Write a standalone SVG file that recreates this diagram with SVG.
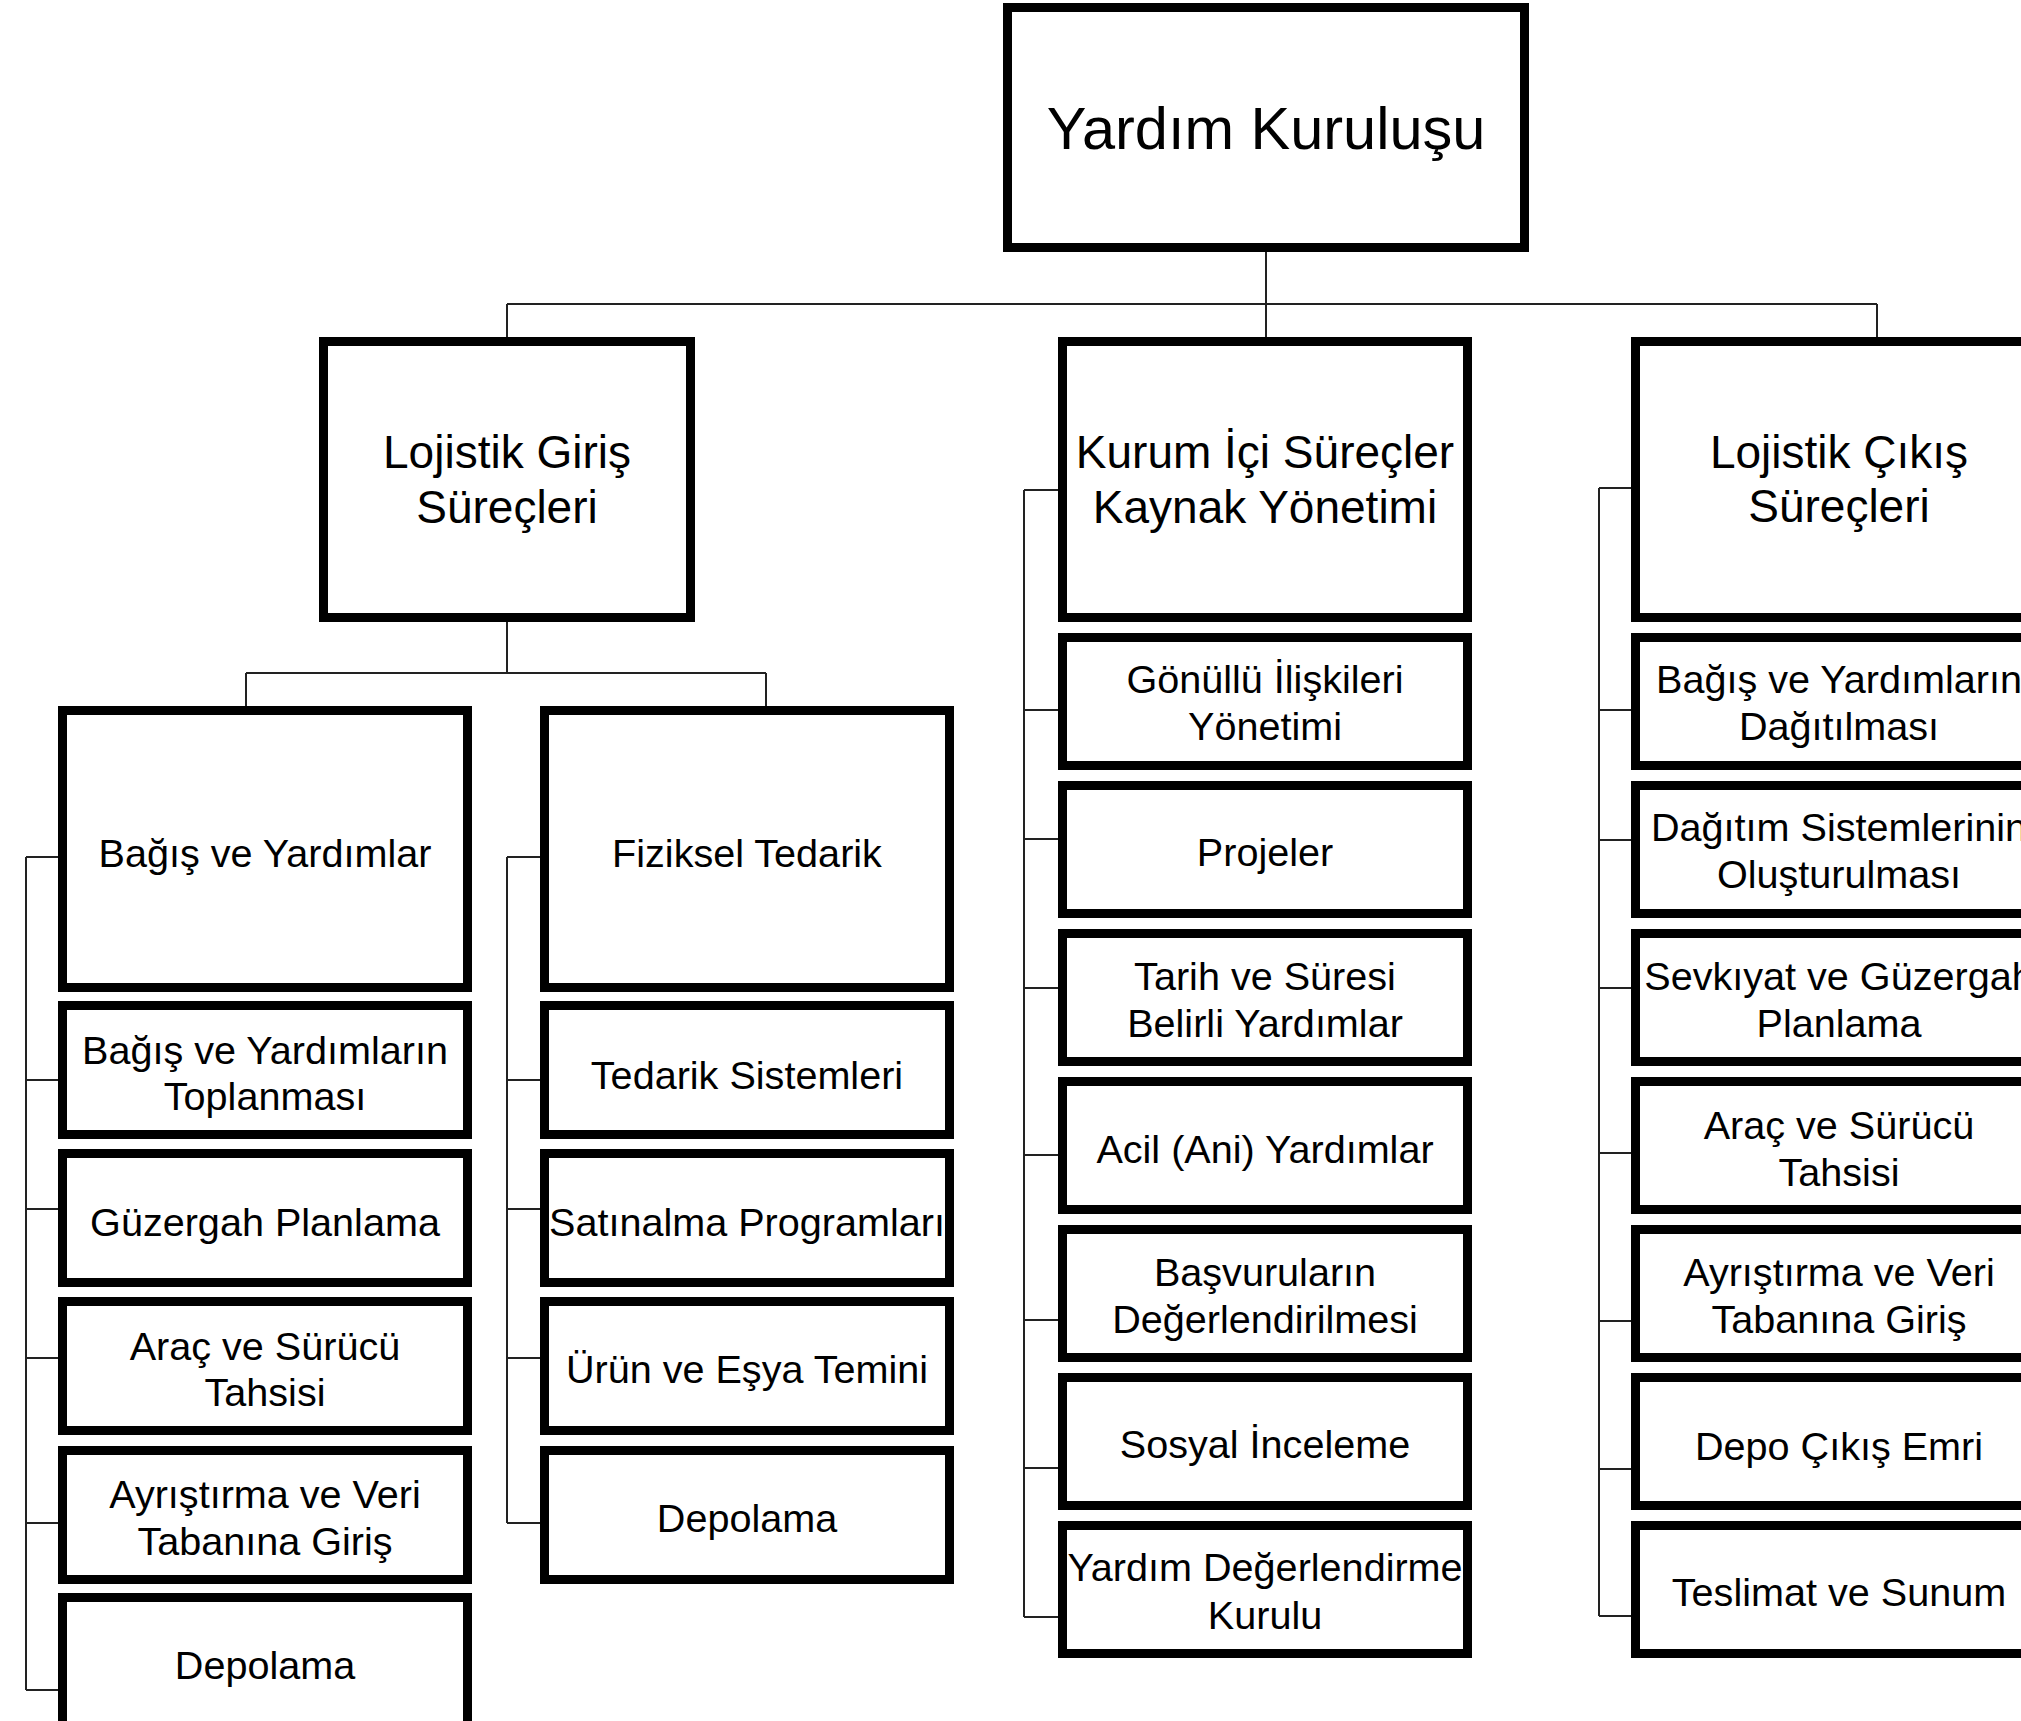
<svg xmlns="http://www.w3.org/2000/svg" width="2021" height="1721" viewBox="0 0 2021 1721">
<style>
.box{fill:#fff;stroke:#000;stroke-width:9}
.ln{fill:none;stroke:#222;stroke-width:2}
text{font-family:"Liberation Sans",Arial,sans-serif;fill:#000;text-anchor:middle}
.t1{font-size:59.5px}
.t2{font-size:46px}
.t3{font-size:39.6px}
</style>
<rect width="2021" height="1721" fill="#fff"/>
<g id="connectors">
<path class="ln" d="M1266,252V337M507,304H1877M507,304V337M1877,304V337"/>
<path class="ln" d="M507,622V673M246,673H766M246,673V706M766,673V706"/>
<path class="ln" d="M26,857V1690M26,857H58M26,1080H58M26,1209H58M26,1358H58M26,1523H58M26,1690H58"/>
<path class="ln" d="M507,857V1523M507,857H540M507,1080H540M507,1209H540M507,1358H540M507,1523H540"/>
<path class="ln" d="M1024,490V1617M1024,490H1058M1024,710H1058M1024,839H1058M1024,988H1058M1024,1155H1058M1024,1320H1058M1024,1468H1058M1024,1617H1058"/>
<path class="ln" d="M1599,488V1616M1599,488H1631M1599,710H1631M1599,840H1631M1599,988H1631M1599,1153H1631M1599,1321H1631M1599,1469H1631M1599,1616H1631"/>
</g>
<g id="root"><rect class="box" x="1007.5" y="7.5" width="517" height="240"/><text class="t1" x="1266" y="149">Yardım Kuruluşu</text></g>
<g id="lojistik-giris"><rect class="box" x="323.5" y="341.5" width="367" height="276"/><text class="t2" x="507" y="468">Lojistik Giriş</text><text class="t2" x="507" y="523">Süreçleri</text></g>
<g id="kurum-ici"><rect class="box" x="1062.5" y="341.5" width="405" height="276"/><text class="t2" x="1265" y="468">Kurum İçi Süreçler</text><text class="t2" x="1265" y="523">Kaynak Yönetimi</text></g>
<g id="lojistik-cikis"><rect class="box" x="1635.5" y="341.5" width="407" height="276"/><text class="t2" x="1839" y="468">Lojistik Çıkış</text><text class="t2" x="1839" y="522">Süreçleri</text></g>

<g id="a1"><rect class="box" x="62.5" y="710.5" width="405" height="277"/><text class="t3" x="265" y="867">Bağış ve Yardımlar</text></g>
<g id="a2"><rect class="box" x="62.5" y="1005.5" width="405" height="129"/><text class="t3" x="265" y="1064">Bağış ve Yardımların</text><text class="t3" x="265" y="1110">Toplanması</text></g>
<g id="a3"><rect class="box" x="62.5" y="1153.5" width="405" height="129"/><text class="t3" x="265" y="1236">Güzergah Planlama</text></g>
<g id="a4"><rect class="box" x="62.5" y="1301.5" width="405" height="129"/><text class="t3" x="265" y="1360">Araç ve Sürücü</text><text class="t3" x="265" y="1406">Tahsisi</text></g>
<g id="a5"><rect class="box" x="62.5" y="1450.5" width="405" height="129"/><text class="t3" x="265" y="1508">Ayrıştırma ve Veri</text><text class="t3" x="265" y="1555">Tabanına Giriş</text></g>
<g id="a6"><rect class="box" x="62.5" y="1597.5" width="405" height="129"/><text class="t3" x="265" y="1679">Depolama</text></g>

<g id="b1"><rect class="box" x="544.5" y="710.5" width="405" height="277"/><text class="t3" x="747" y="867">Fiziksel Tedarik</text></g>
<g id="b2"><rect class="box" x="544.5" y="1005.5" width="405" height="129"/><text class="t3" x="747" y="1089">Tedarik Sistemleri</text></g>
<g id="b3"><rect class="box" x="544.5" y="1153.5" width="405" height="129"/><text class="t3" x="747" y="1236">Satınalma Programları</text></g>
<g id="b4"><rect class="box" x="544.5" y="1301.5" width="405" height="129"/><text class="t3" x="747" y="1383">Ürün ve Eşya Temini</text></g>
<g id="b5"><rect class="box" x="544.5" y="1450.5" width="405" height="129"/><text class="t3" x="747" y="1532">Depolama</text></g>

<g id="c1"><rect class="box" x="1062.5" y="637.5" width="405" height="128"/><text class="t3" x="1265" y="693">Gönüllü İlişkileri</text><text class="t3" x="1265" y="740">Yönetimi</text></g>
<g id="c2"><rect class="box" x="1062.5" y="785.5" width="405" height="128"/><text class="t3" x="1265" y="866">Projeler</text></g>
<g id="c3"><rect class="box" x="1062.5" y="933.5" width="405" height="128"/><text class="t3" x="1265" y="990">Tarih ve Süresi</text><text class="t3" x="1265" y="1037">Belirli Yardımlar</text></g>
<g id="c4"><rect class="box" x="1062.5" y="1081.5" width="405" height="128"/><text class="t3" x="1265" y="1163">Acil (Ani) Yardımlar</text></g>
<g id="c5"><rect class="box" x="1062.5" y="1229.5" width="405" height="128"/><text class="t3" x="1265" y="1286">Başvuruların</text><text class="t3" x="1265" y="1333">Değerlendirilmesi</text></g>
<g id="c6"><rect class="box" x="1062.5" y="1377.5" width="405" height="128"/><text class="t3" x="1265" y="1458">Sosyal İnceleme</text></g>
<g id="c7"><rect class="box" x="1062.5" y="1525.5" width="405" height="128"/><text class="t3" x="1265" y="1581">Yardım Değerlendirme</text><text class="t3" x="1265" y="1629">Kurulu</text></g>

<g id="d1"><rect class="box" x="1635.5" y="637.5" width="407" height="128"/><text class="t3" x="1839" y="693">Bağış ve Yardımların</text><text class="t3" x="1839" y="740">Dağıtılması</text></g>
<g id="d2"><rect class="box" x="1635.5" y="785.5" width="407" height="128"/><text class="t3" x="1839" y="841">Dağıtım Sistemlerinin</text><text class="t3" x="1839" y="888">Oluşturulması</text></g>
<g id="d3"><rect class="box" x="1635.5" y="933.5" width="407" height="128"/><text class="t3" x="1839" y="990">Sevkıyat ve Güzergah</text><text class="t3" x="1839" y="1037">Planlama</text></g>
<g id="d4"><rect class="box" x="1635.5" y="1081.5" width="407" height="128"/><text class="t3" x="1839" y="1139">Araç ve Sürücü</text><text class="t3" x="1839" y="1186">Tahsisi</text></g>
<g id="d5"><rect class="box" x="1635.5" y="1229.5" width="407" height="128"/><text class="t3" x="1839" y="1286">Ayrıştırma ve Veri</text><text class="t3" x="1839" y="1333">Tabanına Giriş</text></g>
<g id="d6"><rect class="box" x="1635.5" y="1377.5" width="407" height="128"/><text class="t3" x="1839" y="1460">Depo Çıkış Emri</text></g>
<g id="d7"><rect class="box" x="1635.5" y="1525.5" width="407" height="128"/><text class="t3" x="1839" y="1606">Teslimat ve Sunum</text></g>
</svg>
